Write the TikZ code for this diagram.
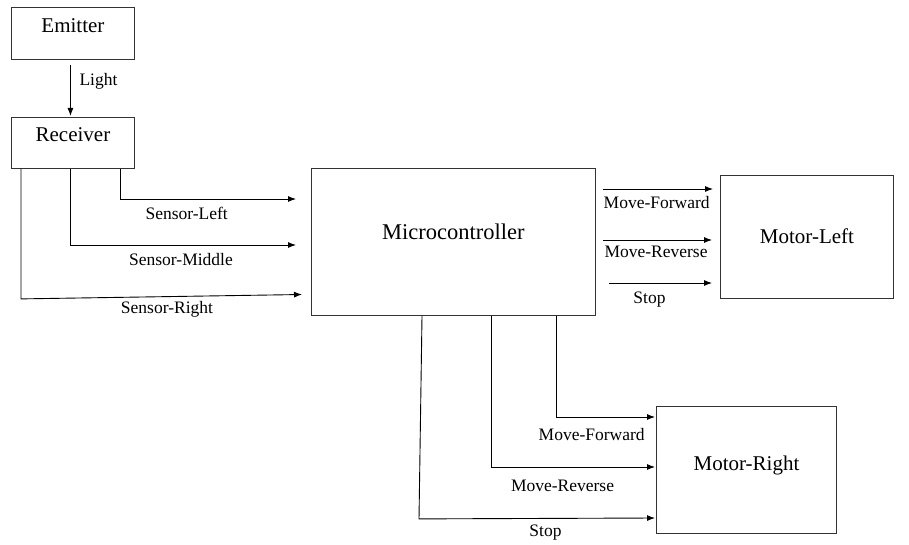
\documentclass[tikz,border=0pt]{standalone}
\usepackage{fontspec}
\setmainfont{LiberationSerif}[Extension=.ttf, UprightFont=*-Regular, BoldFont=*-Bold]
\usetikzlibrary{arrows.meta,calc}
\begin{document}
\begin{tikzpicture}[x=1pt,y=-1pt,
  box/.style={draw=black!80, line width=0.9pt, anchor=north west, inner sep=0pt},
  boxtext/.style={font=\rmfamily\fontsize{21}{25}\selectfont, inner sep=0pt},
  lbl/.style={font=\rmfamily\fontsize{17.5}{21}\selectfont, inner sep=0pt},
  arr/.style={draw=black, line width=0.9pt, -{Latex[length=8pt,width=6pt]}},
  conn/.style={draw=black, line width=0.9pt}]
\useasboundingbox (0,0) rectangle (909,545);
\fill[white] (0,0) rectangle (909,545);
% boxes
\node[box, minimum width=123pt, minimum height=52pt] (emitter) at (11,7) {};
\node[box, minimum width=123pt, minimum height=51pt] (receiver) at (11,117) {};
\node[box, minimum width=284pt, minimum height=147pt] (mcu) at (311,168) {};
\node[box, minimum width=173pt, minimum height=123pt] (motorL) at (720,175) {};
\node[box, minimum width=180pt, minimum height=127pt] (motorR) at (656,406) {};
% box texts
\node[boxtext] (emitterT) at ($(emitter.center)+(0,-8)$) {Emitter};
\node[boxtext] (receiverT) at ($(receiver.center)+(0,-8)$) {Receiver};
\node[boxtext, font=\rmfamily\fontsize{22.5}{26}\selectfont] (mcuT) at ($(mcu.center)+(0,-10.5)$) {Microcontroller};
\node[boxtext] (motorLT) at ($(motorL.center)+(0,-1)$) {Motor-Left};
\node[boxtext] (motorRT) at ($(motorR.center)+(0,-4)$) {Motor-Right};
% arrow end coordinates
\coordinate (slEnd) at (296,199);
\coordinate (smEnd) at (296,245);
\coordinate (srEnd) at (302,294.5);
\coordinate (lfEnd) at (713,189);
\coordinate (lrEnd) at (712,240);
\coordinate (lsEnd) at (712,283);
\coordinate (lsStart) at (609,283);
\coordinate (rfEnd) at (655,417);
\coordinate (rrEnd) at (655,467);
\coordinate (rsEnd) at (655,518);
% emitter -> receiver
\draw[arr] ($(emitter.south)+(-2.5,5)$) -- ($(receiver.north)+(-2.5,-1)$);
\node[lbl] (lightL) at (98.5,81.5) {Light};
% sensors
\draw[arr] ($(receiver.south west)+(109,0)$) |- (slEnd);
\draw[arr] ($(receiver.south west)+(59,0)$) |- (smEnd);
\draw[arr] ($(receiver.south west)+(10,0)$) -- ++(0,130) -- (srEnd);
\node[lbl] (slL) at (186.7,213) {Sensor-Left};
\node[lbl] (smL) at (181,259.5) {Sensor-Middle};
\node[lbl] (srL) at (167,309.5) {Sensor-Right};
% to motor left
\draw[arr] ($(mcu.north east)+(7,21)$) -- (lfEnd);
\draw[arr] ($(mcu.north east)+(7,72)$) -- (lrEnd);
\draw[arr] (lsStart) -- (lsEnd);
\node[lbl] (lfL) at (656.7,202.5) {Move-Forward};
\node[lbl] (lrL) at (656,252) {Move-Reverse};
\node[lbl] (lsL) at (649.5,299.7) {Stop};
% to motor right
\draw[arr] ($(mcu.south west)+(245,0)$) |- (rfEnd);
\draw[arr] ($(mcu.south west)+(180,0)$) |- (rrEnd);
\draw[arr] ($(mcu.south west)+(111,0)$) -- ($(mcu.south west)+(108,203)$) -- (rsEnd);
\node[lbl] (rfL) at (591.7,435) {Move-Forward};
\node[lbl] (rrL) at (562.5,485.5) {Move-Reverse};
\node[lbl] (rsL) at (545.5,533) {Stop};
\end{tikzpicture}
\end{document}
